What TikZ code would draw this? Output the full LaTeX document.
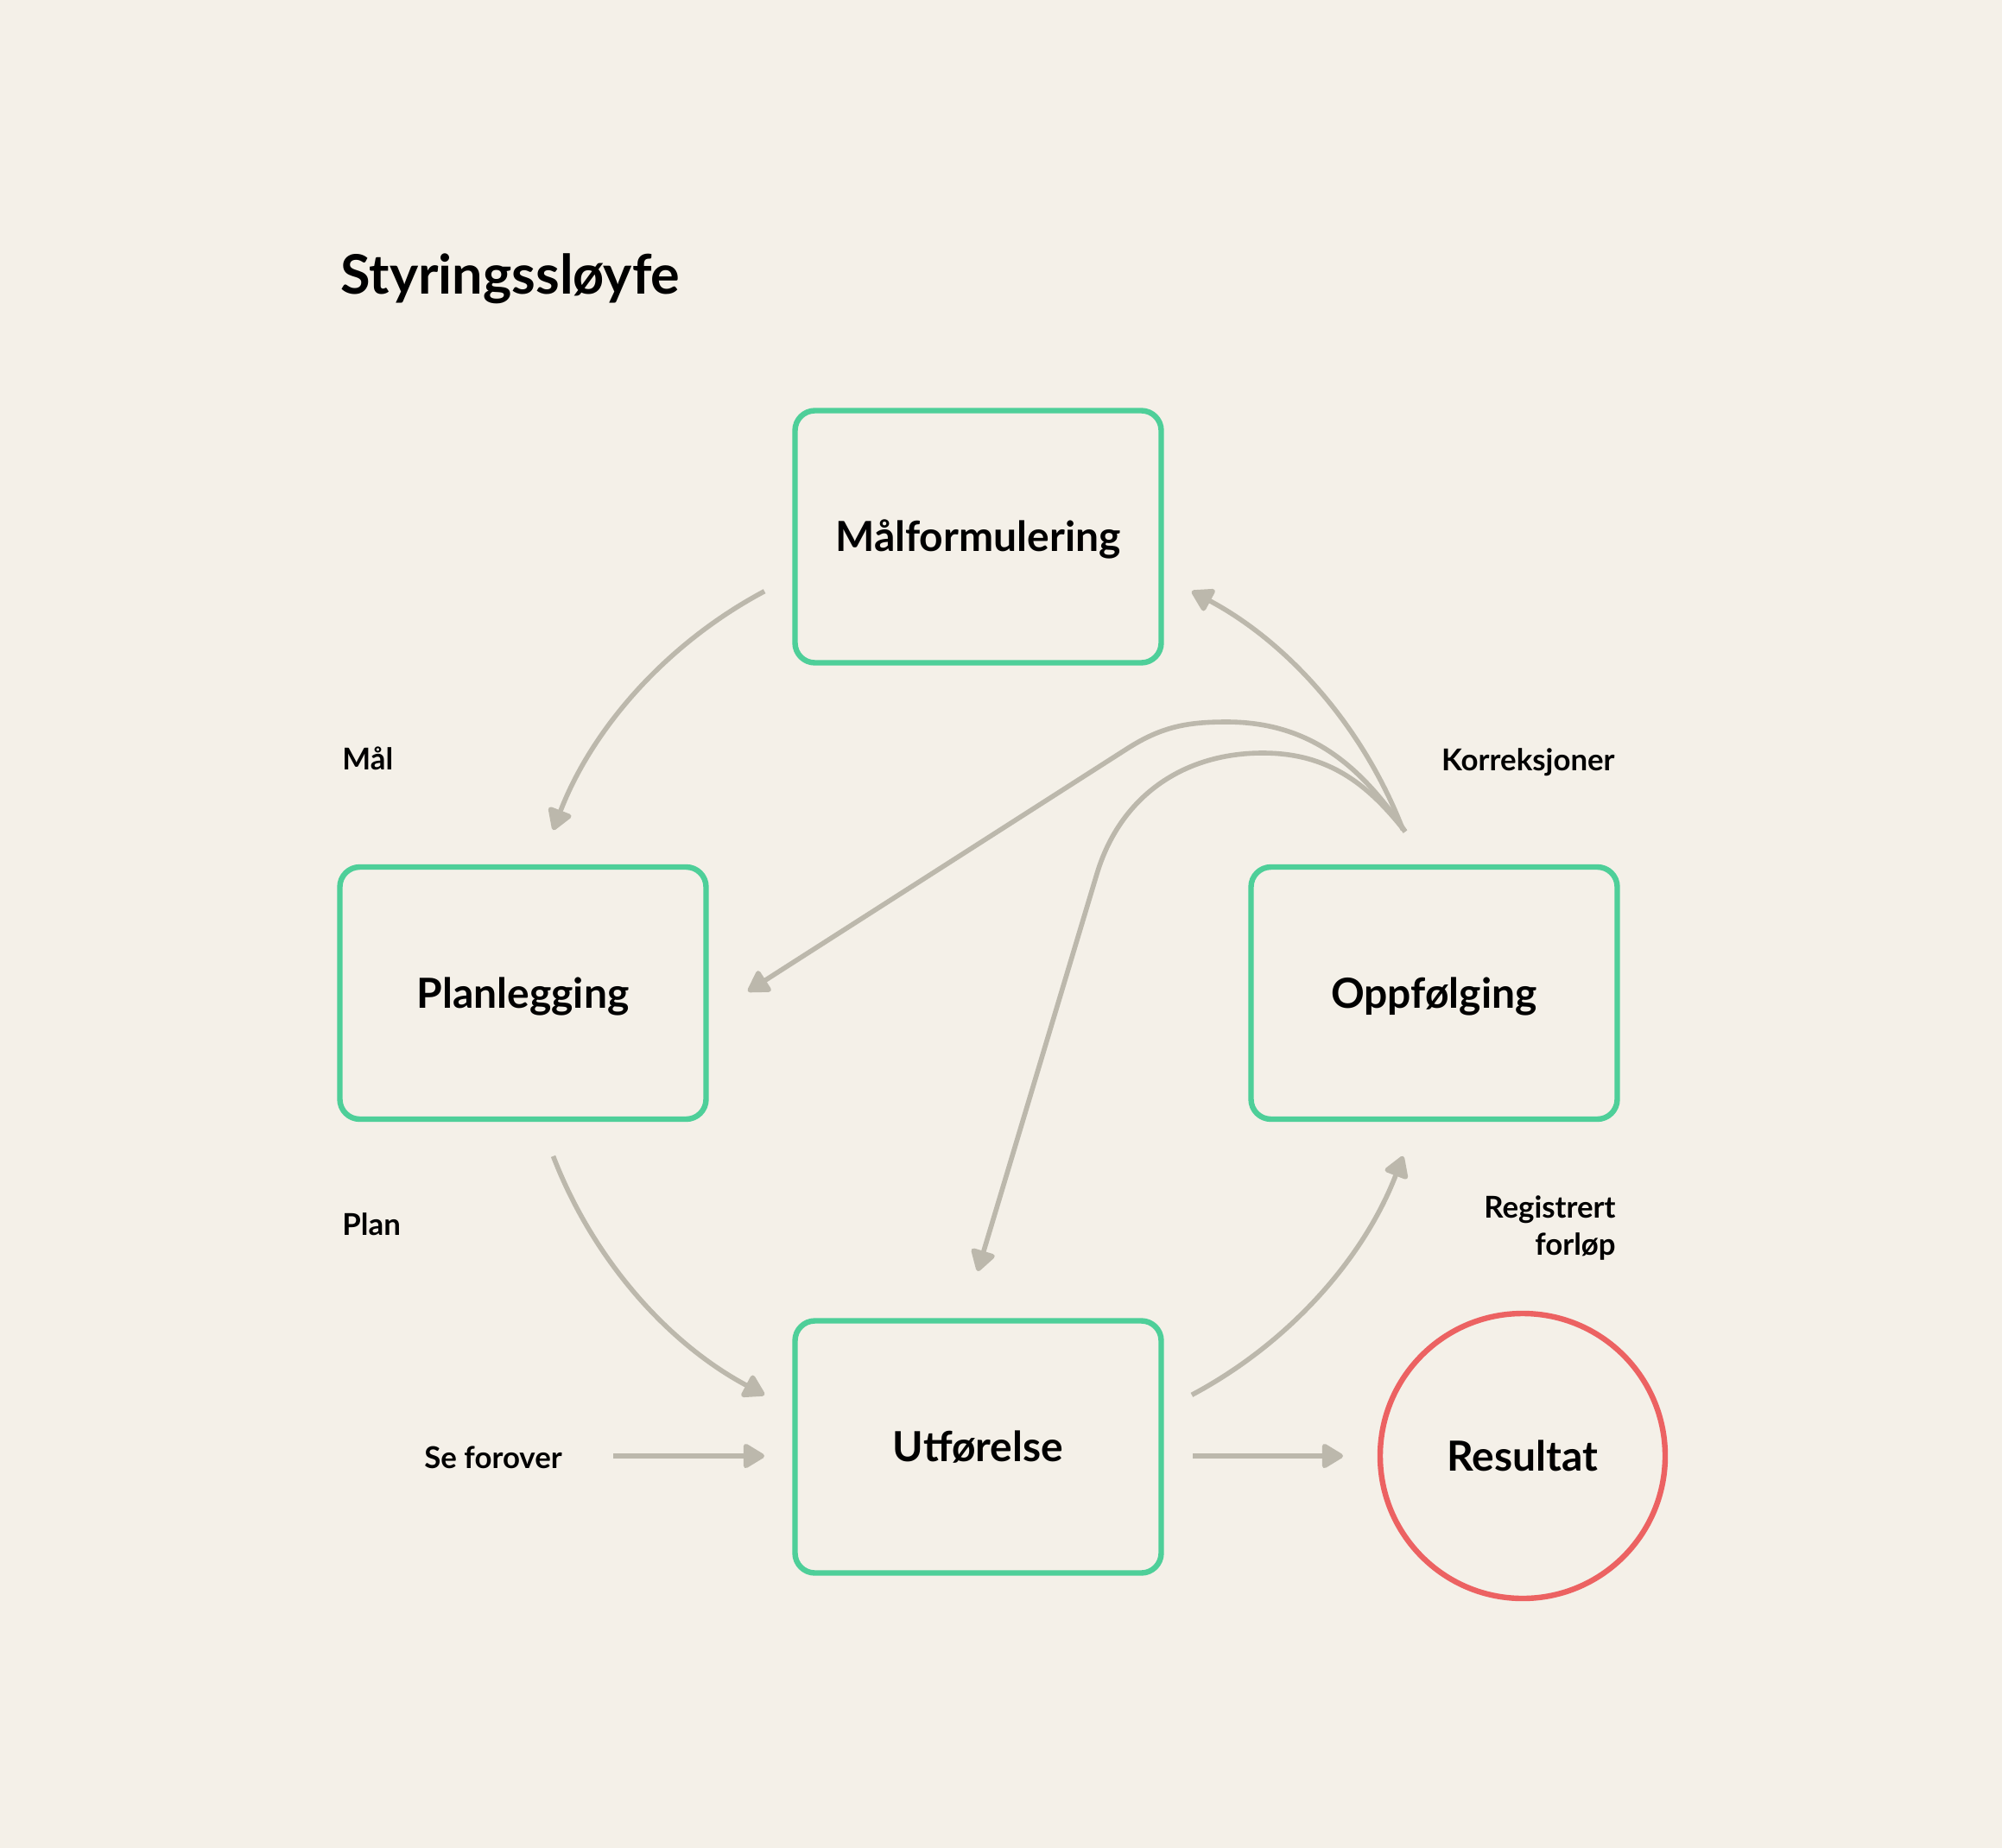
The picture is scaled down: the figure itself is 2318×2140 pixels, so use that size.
\documentclass[tikz,border=0pt]{standalone}
\usepackage{fontspec}
\setmainfont{Lato}
\usetikzlibrary{arrows.meta,calc}
\definecolor{bgc}{RGB}{244,240,232}
\definecolor{grn}{RGB}{78,207,153}
\definecolor{redc}{RGB}{236,98,98}
\definecolor{arrc}{RGB}{188,184,172}
\begin{document}
\begin{tikzpicture}[x=0.5pt,y=0.5pt,
  stepbox/.style={draw=grn, line width=3.2pt, rounded corners=11.5pt,
    minimum width=212pt, minimum height=146pt, inner sep=0pt,
    font=\fontsize{24}{28}\selectfont\bfseries, text height=17pt, text depth=0pt},
  endcircle/.style={draw=redc, line width=3.2pt, circle, minimum size=165pt, inner sep=0pt,
    font=\fontsize{24}{28}\selectfont\bfseries, text height=17pt, text depth=0pt},
  lbl/.style={inner sep=0pt, font=\fontsize{17.4}{21.5}\selectfont\bfseries},
  ttl/.style={inner sep=0pt, font=\fontsize{31.5}{36}\selectfont\bfseries},
  conn/.style={draw=arrc, line width=2.8pt, -{Triangle[length=13.5pt,width=15.5pt,round]}},
]
\fill[bgc] (0,0) rectangle (2318,-2140);
\useasboundingbox (0,0) rectangle (2318,-2140);

\node[ttl, anchor=base west] (title) at (394,-341) {Styringssløyfe};

\node[stepbox] (mal) at (1132.5,-621.5) {Målformulering};
\node[stepbox] (plan) at (605.5,-1150) {Planlegging};
\node[stepbox] (opp) at (1660.5,-1150) {Oppfølging};
\node[stepbox] (utf) at (1132.5,-1675.5) {Utførelse};
\node[endcircle] (res) at (1763,-1686) {Resultat};

\node[lbl, anchor=base west] (lmal) at (396,-891) {Mål};
\node[lbl, anchor=base east] (lkor) at (1870,-892) {Korreksjoner};
\node[lbl, anchor=base west] (lplan) at (396,-1430) {Plan};
\node[lbl, anchor=base east, align=right] (lreg) at (1871,-1453) {Registrert\\forløp};
\node[lbl, anchor=base west] (lse) at (491,-1700) {Se forover};

\coordinate (ctr) at (1132.5,-1150);
\coordinate (src) at (1627,-963);
\coordinate (top1) at (1420,-836);
\coordinate (j1) at (1305,-867);
\coordinate (t1) at (866,-1148);
\coordinate (top2) at (1462,-872);
\coordinate (j2) at (1270,-1012);
\coordinate (t2) at (1132,-1472);
\coordinate (seS) at (710,-1686);
\coordinate (seE) at (885,-1686);
\coordinate (reS) at (1381,-1686);
\coordinate (reE) at (1555,-1686);

% loop arcs
\draw[conn] ($(ctr)+(118:527)$) arc[start angle=118, end angle=159, radius=527];
\draw[conn] ($(ctr)+(201:527)$) arc[start angle=201, end angle=242, radius=527];
\draw[conn] ($(ctr)+(298:527)$) arc[start angle=298, end angle=339, radius=527];
\draw[conn] ($(ctr)+(21:527)$) arc[start angle=21, end angle=62, radius=527];

% corrections
\draw[conn] (src) to[out=124, in=0] (top1) to[out=180, in=32.6] (j1) -- (t1);
\draw[conn] (src) to[out=128, in=0] (top2) to[out=180, in=73.3] (j2) -- (t2);

% straight
\draw[conn] (seS) -- (seE);
\draw[conn] (reS) -- (reE);
\end{tikzpicture}
\end{document}
